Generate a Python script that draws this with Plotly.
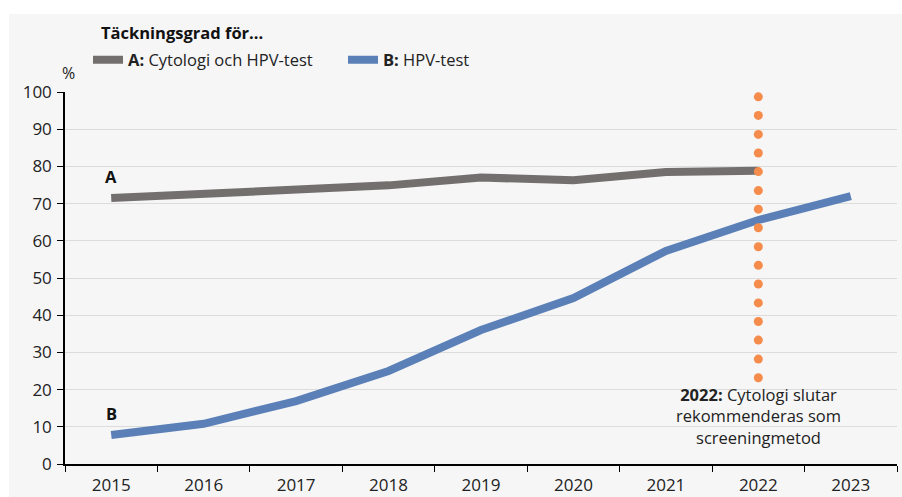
import plotly.graph_objects as go

# ── data ──────────────────────────────────────────
years_a = [2015, 2016, 2017, 2018, 2019, 2020, 2021, 2022]
cov_a = [71.5, 72.6, 73.8, 74.9, 77.0, 76.3, 78.5, 78.8]

years_b = [2015, 2016, 2017, 2018, 2019, 2020, 2021, 2022, 2023]
cov_b = [7.8, 10.8, 16.9, 25.0, 36.0, 44.6, 57.3, 65.6, 72.0]

marker_year = 2022
marker_dots = [98.7, 93.7, 88.6, 83.6, 78.6, 73.5, 68.5, 63.5,
               58.4, 53.4, 48.4, 43.3, 38.3, 33.3, 28.2, 23.2]

tick_years = list(range(2015, 2024))
y_ticks = list(range(0, 101, 10))

FONT = 'Open Sans'
W, H = 902, 497
L, R, T, B = 65, 5, 92, 33
pw, ph = W - L - R, H - T - B


def px(x):
    return (x - L) / pw


def py(y):
    return (H - B - y) / ph


fig = go.Figure()

fig.add_trace(go.Scatter(
    x=years_a, y=cov_a, mode='lines',
    name='<b>A:</b> Cytologi och HPV-test',
    line=dict(color='#736f6e', width=8),
))
fig.add_trace(go.Scatter(
    x=years_b, y=cov_b, mode='lines',
    name='<b>B:</b> HPV-test',
    line=dict(color='#5b80b8', width=8),
))
fig.add_trace(go.Scatter(
    x=[marker_year] * len(marker_dots), y=marker_dots, mode='markers',
    marker=dict(color='#f58c4b', size=9), showlegend=False,
))

# series labels
fig.add_annotation(x=2015, y=77.4, text='<b>A</b>', showarrow=False,
                   font=dict(size=16.5, color='#111'))
fig.add_annotation(x=2015, y=13.7, text='<b>B</b>', showarrow=False,
                   font=dict(size=16.5, color='#111'))
fig.add_annotation(x=marker_year, y=12.9,
                   text='<b>2022:</b> Cytologi slutar<br>rekommenderas som<br>screeningmetod',
                   showarrow=False, align='center',
                   font=dict(size=16.5, color='#222'))

# title, unit
fig.add_annotation(xref='paper', yref='paper', x=px(99), y=py(33),
                   xanchor='left', yanchor='middle', showarrow=False,
                   text='<b>Täckningsgrad för...</b>',
                   font=dict(size=16.5, color='#111'))
fig.add_annotation(xref='paper', yref='paper', x=px(68), y=py(73),
                   xanchor='center', yanchor='middle', showarrow=False,
                   text='%', font=dict(size=16, color='#222'))

# grey card background
fig.add_shape(type='rect', xref='paper', yref='paper', layer='below',
              x0=px(9), x1=px(903), y0=py(498), y1=py(14),
              fillcolor='#f6f6f6', line=dict(width=0))

fig.update_layout(
    width=W, height=H,
    margin=dict(l=L, r=R, t=T, b=B, autoexpand=False),
    paper_bgcolor='white',
    plot_bgcolor='rgba(0,0,0,0)',
    font=dict(family=FONT, size=17, color='#222'),
    legend=dict(orientation='h', x=px(88), y=py(60), xanchor='left',
                yanchor='middle', bgcolor='rgba(0,0,0,0)', itemwidth=30,
                entrywidth=210, font=dict(size=16.5, color='#222')),
    xaxis=dict(range=[2014.5, 2023.5], tickvals=tick_years,
               ticktext=[str(y) for y in tick_years],
               ticks='', showgrid=False, zeroline=False, ticklabelstandoff=5,
               showline=True, linecolor='black', linewidth=1.5,
               minor=dict(tickvals=[y - 0.5 for y in tick_years] + [2023.5],
                          ticks='outside', ticklen=6, tickcolor='black',
                          showgrid=False)),
    yaxis=dict(range=[0, 100], tickvals=y_ticks, ticks='outside', ticklen=6,
               tickcolor='black', showline=True, linecolor='black',
               linewidth=1.5, gridcolor='#dcdcdc', gridwidth=1,
               zeroline=False, ticklabelstandoff=2),
)

fig.write_html('out.html', config={'displayModeBar': False},
               post_script="document.body.style.margin='0';")
